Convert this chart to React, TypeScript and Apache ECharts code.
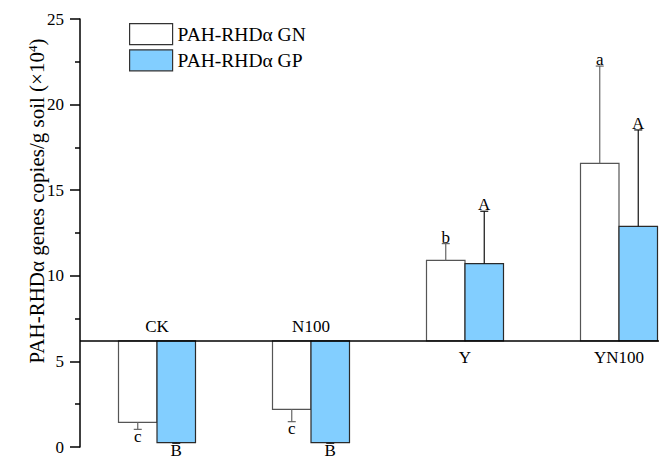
import React, { useEffect, useRef } from "react";
import * as echarts from "echarts";

const categories = ["CK", "N100", "Y", "YN100"];
const baseline = 6.2;
const gnValues = [1.44, 2.2, 10.9, 16.57];
const gnErrors = [0.41, 0.72, 0.98, 5.68];
const gpValues = [0.25, 0.25, 10.71, 12.89];
const gpErrors = [0.03, 0.03, 3.06, 5.63];
const gnLetters = ["c", "c", "b", "a"];
const gpLetters = ["B", "B", "A", "A"];
const yTicks = [0, 5, 10, 15, 20, 25];

const FAMILY = "'Liberation Serif', 'Times New Roman', serif";
const GN_FILL = "#ffffff";
const GN_BORDER = "#555555";
const GP_FILL = "#82CEFF";
const GP_BORDER = "#2a2a2a";

function makeGroupSeries(name: string, values: number[], errors: number[], letters: string[], side: number, fill: string, border: string, errColor: string) {
  return {
    type: "custom",
    name,
    data: values.map((v, i) => [i, v, errors[i]]),
    itemStyle: { color: fill, borderColor: border, borderWidth: 1 },
    renderItem: (params: any, api: any) => {
      const ci = api.value(0);
      const v = api.value(1);
      const e = api.value(2);
      const letter = letters[params.dataIndex];
      const center = api.coord([ci, v]);
      const band = api.size([1, 0])[0];
      const bw = band / 4;
      const x0 = side < 0 ? center[0] - bw : center[0];
      const cx = x0 + bw / 2;
      const yv = center[1];
      const yb = api.coord([ci, baseline])[1];
      const up = v >= baseline;
      const ye = api.coord([ci, up ? v + e : v - e])[1];
      const children: any[] = [
        {
          type: "rect",
          shape: { x: x0, y: Math.min(yv, yb), width: bw, height: Math.abs(yb - yv) },
          style: { fill, stroke: border, lineWidth: 1.2 },
        },
        {
          type: "line",
          shape: { x1: cx, y1: yv, x2: cx, y2: ye },
          style: { stroke: errColor, lineWidth: 1.2 },
        },
        {
          type: "line",
          shape: { x1: cx - 4, y1: ye, x2: cx + 4, y2: ye },
          style: { stroke: errColor, lineWidth: 1.2 },
        },
        {
          type: "text",
          x: cx,
          y: up ? ye + 2 : ye - 1.5,
          style: {
            text: letter,
            fill: "#000",
            fontFamily: FAMILY,
            fontSize: 17,
            align: "center",
            verticalAlign: up ? "bottom" : "top",
          },
        },
      ];
      return { type: "group", children };
    },
    z: 3,
  };
}

export default function App() {
  const ref = useRef<HTMLDivElement>(null);
  useEffect(() => {
    document.body.style.margin = "0";
    if (!ref.current) return;
    const chart = echarts.init(ref.current, null, { renderer: "svg" });
    const option: any = {
      animation: false,
      backgroundColor: "#fff",
      grid: { left: 80, top: 19, height: 428, width: 616, containLabel: false },
      legend: {
        orient: "vertical",
        left: 129,
        top: 23,
        padding: 0,
        itemWidth: 43,
        itemHeight: 21,
        itemGap: 4,
        icon: "rect",
        textStyle: { fontFamily: FAMILY, fontSize: 19.5, color: "#000", lineHeight: 21 },
        data: [
          { name: "PAH-RHDα GN", itemStyle: { color: GN_FILL, borderColor: "#333", borderWidth: 1.2 } },
          { name: "PAH-RHDα GP", itemStyle: { color: GP_FILL, borderColor: "#333", borderWidth: 1.2 } },
        ],
      },
      xAxis: {
        type: "category",
        data: categories,
        axisLine: { show: false },
        axisTick: { show: false },
        axisLabel: { show: false },
        splitLine: { show: false },
      },
      yAxis: {
        type: "value",
        min: 0,
        max: 25,
        interval: 5,
        axisLine: { show: true, lineStyle: { color: "#000", width: 1.5 } },
        axisTick: { show: true, length: 10, lineStyle: { color: "#000", width: 1.5 } },
        minorTick: { show: true, splitNumber: 2, length: 5, lineStyle: { color: "#000", width: 1.5 } },
        axisLabel: {
          fontFamily: FAMILY,
          fontSize: 17,
          color: "#000",
          margin: 16,
          formatter: (v: number) => (yTicks.includes(v) ? String(v) : ""),
        },
        splitLine: { show: false },
      },
      graphic: [
        {
          type: "text",
          x: 37,
          y: 201,
          rotation: Math.PI / 2,
          style: {
            text: "PAH-RHDα genes copies/g soil (×10{sup|4})",
            rich: { sup: { fontSize: 13, fontFamily: FAMILY, padding: [0, 0, 10, 0] } },
            fontFamily: FAMILY,
            fontSize: 21,
            fill: "#000",
            align: "center",
            verticalAlign: "middle",
          },
        },
      ],
      series: [
        makeGroupSeries("PAH-RHDα GN", gnValues, gnErrors, gnLetters, -1, GN_FILL, GN_BORDER, "#666"),
        makeGroupSeries("PAH-RHDα GP", gpValues, gpErrors, gpLetters, 1, GP_FILL, GP_BORDER, "#111"),
        {
          type: "custom",
          name: "labels",
          data: categories.map((c, i) => [i, baseline, gnValues[i] < baseline ? 1 : 0]),
          renderItem: (params: any, api: any) => {
            const ci = api.value(0);
            const p = api.coord([ci, baseline]);
            const above = api.value(2) === 1;
            return {
              type: "text",
              x: p[0],
              y: above ? p[1] - 6 : p[1] + 8,
              style: {
                text: categories[params.dataIndex],
                fill: "#000",
                fontFamily: FAMILY,
                fontSize: 17,
                align: "center",
                verticalAlign: above ? "bottom" : "top",
              },
            };
          },
          markLine: {
            silent: true,
            symbol: "none",
            label: { show: false },
            lineStyle: { color: "#000", width: 1.5, type: "solid" },
            data: [{ yAxis: baseline }],
          },
          z: 4,
        },
      ],
    };
    chart.setOption(option);
    return () => chart.dispose();
  }, []);
  return (
    <div style={{ width: 659, height: 459, overflow: "hidden", position: "relative" }}>
      <div ref={ref} style={{ width: 700, height: 459 }} />
    </div>
  );
}
